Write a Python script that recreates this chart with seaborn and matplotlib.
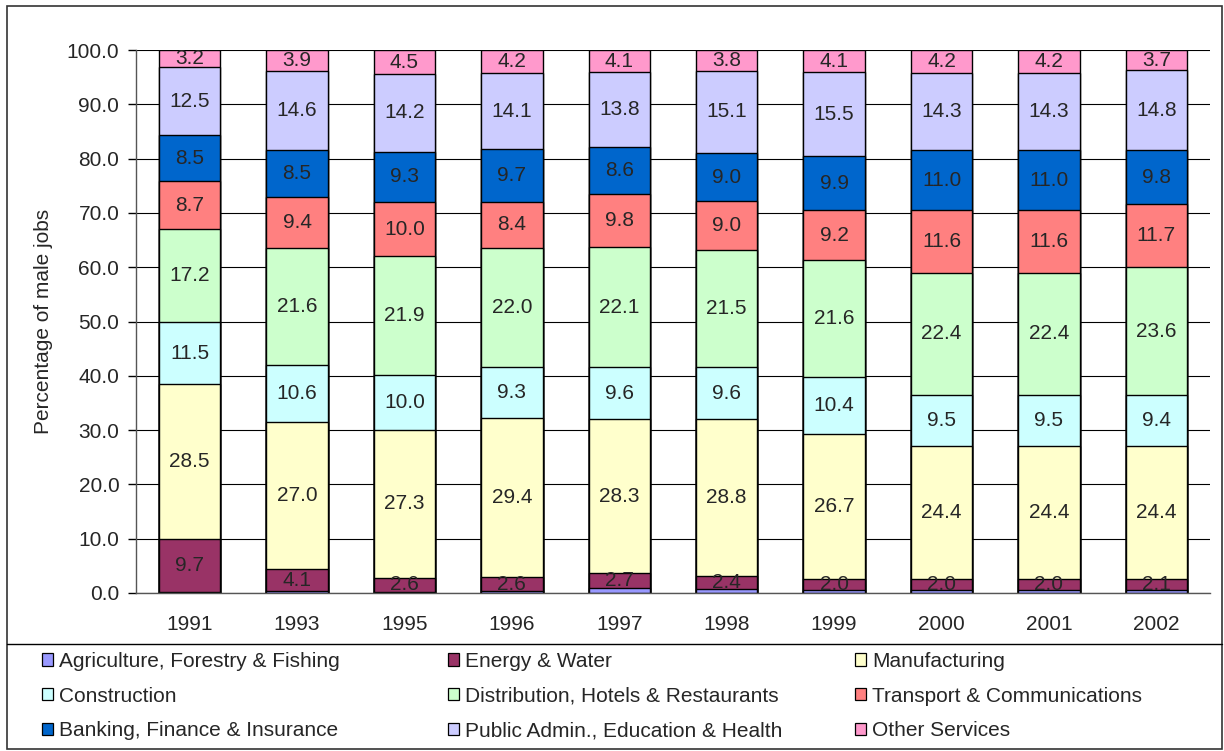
import numpy as np
import seaborn as sns
import matplotlib.pyplot as plt
from matplotlib.patches import Patch, Rectangle
from matplotlib.lines import Line2D

# data (percent of male jobs by sector)
years = ['1991', '1993', '1995', '1996', '1997', '1998', '1999', '2000', '2001', '2002']
agriculture = [0.2, 0.3, 0.2, 0.3, 1.0, 0.8, 0.6, 0.6, 0.6, 0.5]
energy = [9.7, 4.1, 2.6, 2.6, 2.7, 2.4, 2.0, 2.0, 2.0, 2.1]
manufacturing = [28.5, 27.0, 27.3, 29.4, 28.3, 28.8, 26.7, 24.4, 24.4, 24.4]
construction = [11.5, 10.6, 10.0, 9.3, 9.6, 9.6, 10.4, 9.5, 9.5, 9.4]
distribution = [17.2, 21.6, 21.9, 22.0, 22.1, 21.5, 21.6, 22.4, 22.4, 23.6]
transport = [8.7, 9.4, 10.0, 8.4, 9.8, 9.0, 9.2, 11.6, 11.6, 11.7]
banking = [8.5, 8.5, 9.3, 9.7, 8.6, 9.0, 9.9, 11.0, 11.0, 9.8]
public = [12.5, 14.6, 14.2, 14.1, 13.8, 15.1, 15.5, 14.3, 14.3, 14.8]
other = [3.2, 3.9, 4.5, 4.2, 4.1, 3.8, 4.1, 4.2, 4.2, 3.7]

sectors = ['Agriculture, Forestry & Fishing', 'Energy & Water', 'Manufacturing',
           'Construction', 'Distribution, Hotels & Restaurants', 'Transport & Communications',
           'Banking, Finance & Insurance', 'Public Admin., Education & Health', 'Other Services']
series = [agriculture, energy, manufacturing, construction, distribution,
          transport, banking, public, other]
colors = ['#9999FF', '#993366', '#FFFFCC', '#CCFFFF', '#CCFFCC',
          '#FF8080', '#0066CC', '#CCCCFF', '#FF99CC']

sns.set_style('white')
plt.rcParams['font.family'] = ['Liberation Sans', 'DejaVu Sans']
FS = 15

fig = plt.figure(figsize=(12.24, 7.51), dpi=100)
ax = fig.add_axes([136/1224, 1-593/751, (1210-136)/1224, (593-50)/751])

vals = np.array(series)
tops = np.cumsum(vals, axis=0)
bottoms = tops - vals

# draw cumulative bars from the top segment down so each one overlays the next
for i in range(len(series)-1, -1, -1):
    sns.barplot(x=years, y=tops[i], color=colors[i], saturation=1, width=0.57,
                edgecolor='black', linewidth=1.0, ax=ax, zorder=2)

# value labels (not for agriculture)
for i in range(1, len(series)):
    for j in range(len(years)):
        ax.text(j, bottoms[i, j] + vals[i, j]/2, '%.1f' % vals[i, j],
                ha='center', va='center', fontsize=FS, zorder=5)

ax.set_ylim(0, 100)
ax.set_xlim(-0.5, len(years)-0.5)
ax.set_yticks(np.arange(0, 101, 10))
ax.set_yticklabels(['%.1f' % v for v in np.arange(0, 101, 10)], fontsize=FS)
ax.set_xticks(range(len(years)))
ax.set_xticklabels(years, fontsize=FS)
ax.set_xticks(np.arange(-0.5, len(years), 1), minor=True)
ax.tick_params(axis='x', which='major', length=0, pad=16)
ax.tick_params(axis='x', which='minor', length=6, width=1, color='black', direction='out')
ax.tick_params(axis='y', length=6, width=1, color='black', direction='out', pad=6, left=True)
ax.grid(axis='y', color='black', linewidth=0.8)
ax.set_axisbelow(True)
for s in ['top', 'right']:
    ax.spines[s].set_visible(False)
for s in ['left', 'bottom']:
    ax.spines[s].set_color('#555555')
    ax.spines[s].set_linewidth(1.0)
ax.set_xlabel('')
ax.set_ylabel('Percentage of male jobs', fontsize=FS)
ax.yaxis.set_label_coords(-0.077, 0.5)

# legend: three columns, filled row by row
col_x = [42/1224, 448/1224, 855/1224]
for c in range(3):
    idx = [c, c+3, c+6]
    handles = [Patch(facecolor=colors[k], edgecolor='black', linewidth=0.9) for k in idx]
    fig.legend(handles, [sectors[k] for k in idx], loc='center left',
               bbox_to_anchor=(col_x[c], 1-696/751), frameon=False, fontsize=FS,
               handlelength=0.53, handleheight=0.53, handletextpad=0.3,
               labelspacing=0.745, borderpad=0, borderaxespad=0)

# outer frame and separator above the legend
fig.add_artist(Rectangle((7/1224, 2/751), 1215/1224, 743/751, transform=fig.transFigure,
                         fill=False, edgecolor='#333333', linewidth=1.2))
fig.add_artist(Line2D([7/1224, 1222/1224], [1-644/751, 1-644/751],
                      transform=fig.transFigure, color='black', linewidth=1.0))

fig.savefig('out.png', dpi=100)
